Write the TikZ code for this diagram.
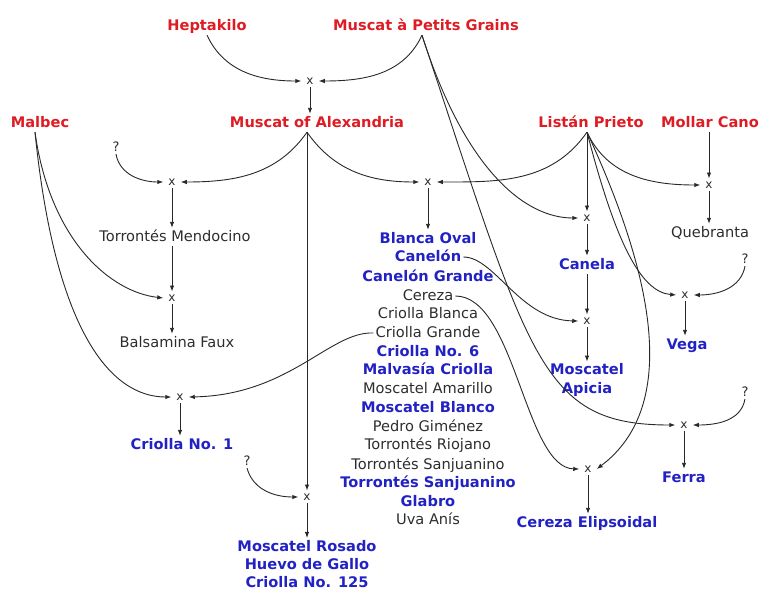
\documentclass[tikz,border=0pt]{standalone}
\usepackage{fontspec}
\setmainfont{DejaVu Sans}
\usetikzlibrary{arrows.meta}
\definecolor{vred}{RGB}{222,28,36}
\definecolor{vblue}{RGB}{34,34,196}
\definecolor{vtext}{RGB}{45,45,45}
\definecolor{vline}{RGB}{40,40,40}
\begin{document}
\begin{tikzpicture}[x=1pt,y=1pt,
  lbl/.style={font=\fontsize{14.6}{18.8}\selectfont, text=vtext, inner sep=2pt, text height=11pt, text depth=3pt},
  parent/.style={lbl, font=\fontsize{14.6}{18.8}\selectfont\bfseries, text=vred},
  kid/.style={lbl, font=\fontsize{14.6}{18.8}\selectfont\bfseries, text=vblue},
  kidm/.style={font=\fontsize{14.6}{18.2}\selectfont\bfseries, text=vblue, align=center, inner sep=2pt},
  xmark/.style={font=\fontsize{12}{12}\selectfont, text=vtext, inner xsep=5pt, inner ysep=3pt},
  unk/.style={font=\fontsize{13}{13}\selectfont, text=vtext, inner sep=2pt},
  link/.style={draw=vline, line width=0.9pt, -{Latex[length=6pt,width=4.5pt]}},
]
\useasboundingbox (0,0) rectangle (763,-592);
% nodes
\node[parent] (hep) at (207,-26) {Heptakilo};
\node[parent] (mpg) at (426,-26) {Muscat à Petits Grains};
\node[xmark] (x1) at (310,-81) {x};
\node[parent] (mal) at (40,-123) {Malbec};
\node[parent] (moa) at (317,-123) {Muscat of Alexandria};
\node[parent] (lp) at (591,-123) {Listán Prieto};
\node[parent] (mc) at (710,-123) {Mollar Cano};
\node[unk] (u1) at (116,-147) {?};
\node[xmark] (x2) at (172,-182) {x};
\node[xmark] (x3) at (428,-182) {x};
\node[xmark] (xq) at (709,-185) {x};
\node[xmark] (x7) at (587,-218) {x};
\node[lbl] (tm) at (175,-237) {Torrontés Mendocino};
\node[kid] (bo) at (428,-239) {Blanca Oval};
\node[kid] (cn) at (428,-257) {Canelón};
\node[kid] (cg) at (428,-277) {Canelón Grande};
\node[lbl] (cz) at (428,-296) {Cereza};
\node[lbl] (cb) at (428,-314) {Criolla Blanca};
\node[lbl] (cgr) at (428,-333) {Criolla Grande};
\node[kid] (c6) at (428,-352) {Criolla No. 6};
\node[kid] (mv) at (428,-370) {Malvasía Criolla};
\node[lbl] (ma) at (428,-389) {Moscatel Amarillo};
\node[kid] (mb) at (428,-408) {Moscatel Blanco};
\node[lbl] (pg) at (428,-427) {Pedro Giménez};
\node[lbl] (tr) at (428,-445) {Torrontés Riojano};
\node[lbl] (ts) at (428,-465) {Torrontés Sanjuanino};
\node[kid] (tsb) at (428,-483) {Torrontés Sanjuanino};
\node[kid] (gl) at (428,-502) {Glabro};
\node[lbl] (ua) at (428,-520) {Uva Anís};
\node[lbl] (qb) at (710,-233) {Quebranta};
\node[unk] (u2) at (745,-259) {?};
\node[kid] (cl) at (587,-265) {Canela};
\node[xmark] (x4) at (172,-298) {x};
\node[xmark] (xv) at (685,-295) {x};
\node[xmark] (x8) at (587,-321) {x};
\node[lbl] (bf) at (177,-343) {Balsamina Faux};
\node[kid] (vg) at (687,-345) {Vega};
\node[kidm] (ap) at (587,-380) {Moscatel\\Apicia};
\node[unk] (u3) at (745,-392) {?};
\node[xmark] (x5) at (180,-397) {x};
\node[xmark] (xf) at (684,-425) {x};
\node[kid] (c1) at (182,-445) {Criolla No. 1};
\node[unk] (u4) at (247,-461) {?};
\node[xmark] (x9) at (588,-469) {x};
\node[kid] (fe) at (684,-478) {Ferra};
\node[xmark] (x6) at (307,-497) {x};
\node[kid] (ce) at (587,-523) {Cereza Elipsoidal};
\node[kidm] (mr) at (307,-564) {Moscatel Rosado\\Huevo de Gallo\\Criolla No. 125};
% connectors
\draw[link] (hep.south) to[out=-65,in=180] (x1.west);
\draw[link] ([xshift=-4pt]mpg.south) to[out=-115,in=0] (x1.east);
\draw[link] (x1.south) -- (x1 |- moa.north);
\draw[link] ([xshift=-10pt]moa.south) to[out=-125,in=0] (x2.east);
\draw[link] (u1.south) to[out=-80,in=180] (x2.west);
\draw[link] ([xshift=-10pt]moa.south) to[out=-55,in=180] (x3.west);
\draw[link] ([xshift=-4pt]lp.south) to[out=-125,in=0] (x3.east);
\draw[link] ([xshift=-10pt]moa.south) -- (x6.north);
\draw[link] ([xshift=-4pt]mpg.south) .. controls (465,-170) and (525,-218) .. (x7.west);
\draw[link] ([xshift=-4pt]mpg.south) .. controls (530,-360) and (540,-425) .. (xf.west);
\draw[link] ([xshift=-4pt]lp.south) -- (x7.north);
\draw[link] ([xshift=-4pt]lp.south) to[out=-65,in=180] (xq.west);
\draw[link] (mc.south -| xq) -- (xq.north);
\draw[link] (xq.south) -- (xq |- qb.north);
\draw[link] ([xshift=-4pt]lp.south) .. controls (615,-240) and (640,-292) .. (xv.west);
\draw[link] (u2.south) to[out=-100,in=0] (xv.east);
\draw[link] (xv.south) -- (xv |- vg.north);
\draw[link] ([xshift=-4pt]lp.south) .. controls (660,-290) and (675,-410) .. (x9.east);
\draw[link] (cz.east) .. controls (515,-296) and (525,-468) .. (x9.west);
\draw[link] (cn.east) .. controls (495,-257) and (520,-320) .. (x8.west);
\draw[link] (x7.south) -- (cl.north);
\draw[link] (cl.south) -- (x8.north);
\draw[link] (x8.south) -- (ap.north);
\draw[link] (u3.south) to[out=-100,in=0] (xf.east);
\draw[link] (xf.south) -- (fe.north);
\draw[link] (x9.south) -- (x9 |- ce.north);
\draw[link] ([xshift=-5pt]mal.south) .. controls (50,-240) and (110,-292) .. (x4.west);
\draw[link] ([xshift=-5pt]mal.south) .. controls (55,-330) and (110,-397) .. (x5.west);
\draw[link] (cgr.west) .. controls (330,-331) and (290,-395) .. (x5.east);
\draw[link] (x2.south) -- (x2 |- tm.north);
\draw[link] (x2 |- tm.south) -- (x4.north);
\draw[link] (x4.south) -- (x4 |- bf.north);
\draw[link] (x5.south) -- (x5 |- c1.north);
\draw[link] (u4.south) to[out=-75,in=180] (x6.west);
\draw[link] (x6.south) -- (mr.north);
\draw[link] (x3.south) -- (bo.north);
\end{tikzpicture}
\end{document}
